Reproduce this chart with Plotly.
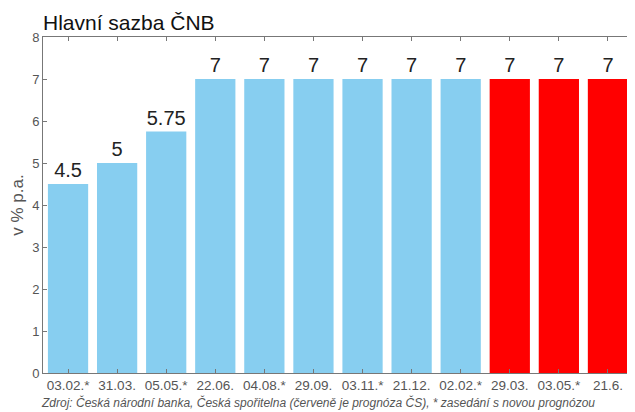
import plotly.graph_objects as go

# data
terminy = ["03.02.*", "31.03.", "05.05.*", "22.06.", "04.08.*", "29.09.",
           "03.11.*", "21.12.", "02.02.*", "29.03.", "03.05.*", "21.6."]
sazba = [4.5, 5, 5.75, 7, 7, 7, 7, 7, 7, 7, 7, 7]
popisky = ["4.5", "5", "5.75", "7", "7", "7", "7", "7", "7", "7", "7", "7"]
prognoza = [False] * 9 + [True] * 3

barvy = ["#ff0000" if p else "#87cef0" for p in prognoza]

fig = go.Figure(go.Bar(
    x=list(range(len(terminy))),
    y=sazba,
    text=popisky,
    textposition="outside",
    textfont=dict(size=20, color="#222222", family="Liberation Sans, Arial"),
    marker=dict(color=barvy, line=dict(width=0)),
    width=0.82,
    cliponaxis=False,
))

# stranka ma okraj 8 px, proto je obrazek o 8 px mensi
fig.update_layout(
    width=627, height=404,
    margin=dict(l=35, r=3, t=29, b=39),
    plot_bgcolor="white",
    paper_bgcolor="white",
    showlegend=False,
    font=dict(family="Liberation Sans, Arial", color="#555555"),
)

fig.update_xaxes(
    tickmode="array",
    tickvals=list(range(len(terminy))),
    ticktext=terminy,
    range=[-0.51, 11.49],
    showgrid=False,
    automargin=False,
    showline=True, linecolor="#777777", linewidth=1,
    mirror="allticks", ticks="inside", ticklen=4, tickcolor="#777777",
    tickfont=dict(size=13.5, color="#555555"),
)
fig.update_yaxes(
    range=[0, 8],
    dtick=1,
    showgrid=False,
    zeroline=False,
    automargin=False,
    showline=True, linecolor="#777777", linewidth=1,
    mirror="allticks", ticks="inside", ticklen=4, tickcolor="#777777",
    tickfont=dict(size=13, color="#555555"),
    title=dict(text="v % p.a.", font=dict(size=17, color="#555555"), standoff=8),
)

# nadpis
fig.add_annotation(
    text="Hlavní sazba ČNB",
    xref="paper", yref="paper", x=0, y=1.0, xanchor="left", yanchor="bottom",
    xshift=-2, yshift=1, showarrow=False, font=dict(size=21, color="#111111"),
)

# zdroj
fig.add_annotation(
    text="<i>Zdroj: Česká národní banka, Česká spořitelna (červeně je prognóza ČS), * zasedání s novou prognózou</i>",
    xref="paper", yref="paper", x=-0.006, y=-0.116, xanchor="left", yanchor="bottom",
    showarrow=False, font=dict(size=12, color="#555555"),
)

fig.write_html("out.html")
